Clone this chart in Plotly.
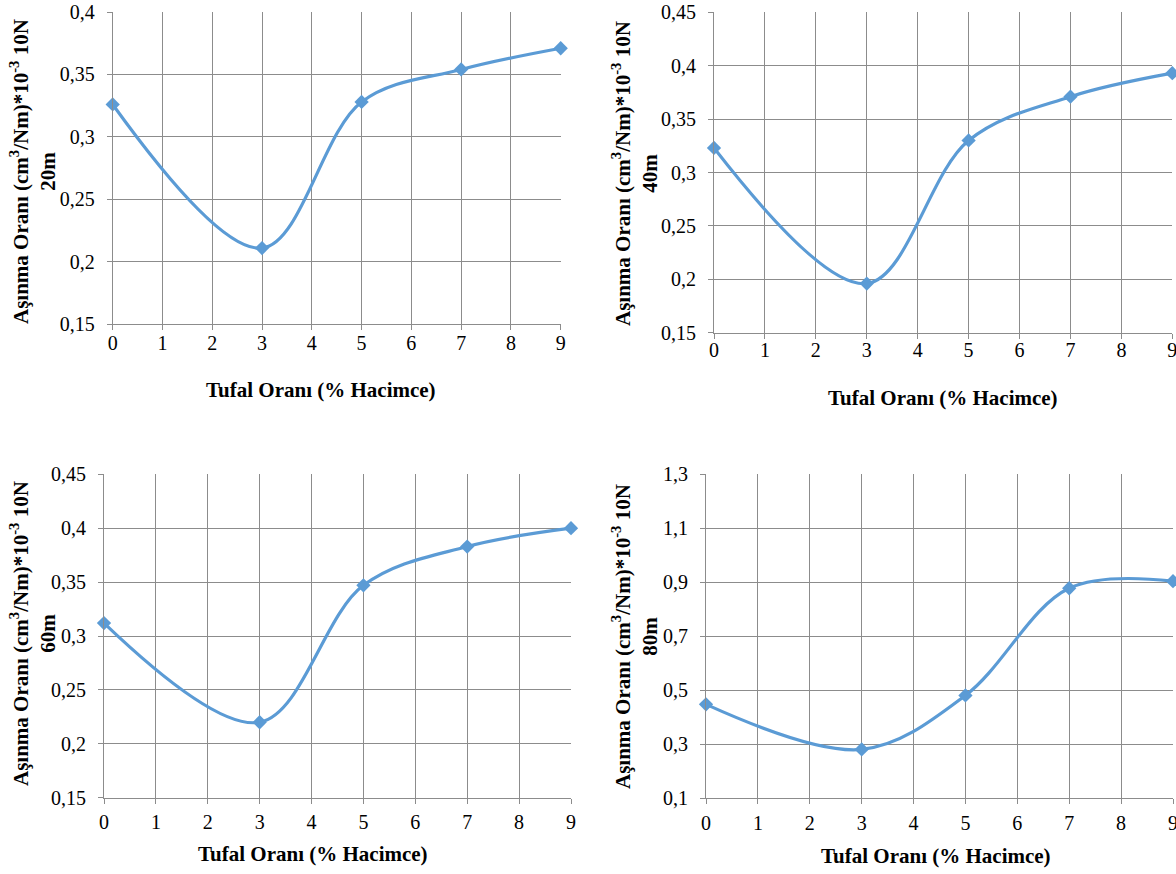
import plotly.graph_objects as go

W, H = 1176, 874

# ---- data ----
x_vals = [0, 3, 5, 7, 9]
y_20m = [0.326, 0.211, 0.328, 0.354, 0.371]
y_40m = [0.323, 0.196, 0.330, 0.371, 0.393]
y_60m = [0.312, 0.220, 0.347, 0.383, 0.400]
y_80m = [0.448, 0.281, 0.481, 0.878, 0.904]

x_ticks = [0, 1, 2, 3, 4, 5, 6, 7, 8, 9]
y_ticks_20m = [0.15, 0.2, 0.25, 0.3, 0.35, 0.4]
y_ticks_40m = [0.15, 0.2, 0.25, 0.3, 0.35, 0.4, 0.45]
y_ticks_60m = [0.15, 0.2, 0.25, 0.3, 0.35, 0.4, 0.45]
y_ticks_80m = [0.1, 0.3, 0.5, 0.7, 0.9, 1.1, 1.3]
y_ticktext_20m = ["0,15", "0,2", "0,25", "0,3", "0,35", "0,4"]
y_ticktext_40m = ["0,15", "0,2", "0,25", "0,3", "0,35", "0,4", "0,45"]
y_ticktext_60m = ["0,15", "0,2", "0,25", "0,3", "0,35", "0,4", "0,45"]
y_ticktext_80m = ["0,1", "0,3", "0,5", "0,7", "0,9", "1,1", "1,3"]
distances = ["20m", "40m", "60m", "80m"]
x_title = "Tufal Oranı (% Hacimce)"
y_title_main = "Aşınma Oranı (cm<sup>3</sup>/Nm)*10<sup>-3</sup> 10N"

# ---- layout geometry (pixels) ----
panels = [
    dict(x0=112.7, x1=560.7, yt=12.0, yb=324.3, xso=-4, ytx=33, yty=172, xtx=321, xty=390),
    dict(x0=714.0, x1=1172.3, yt=12.3, yb=332.7, xso=-6, ytx=635, yty=174, xtx=943, xty=398),
    dict(x0=104.0, x1=571.0, yt=474.3, yb=797.7, xso=1, ytx=33, yty=634, xtx=313, xty=854),
    dict(x0=706.0, x1=1173.0, yt=474.3, yb=798.3, xso=2, ytx=635, yty=637, xtx=936, xty=856),
]
series = [y_20m, y_40m, y_60m, y_80m]
yticks = [y_ticks_20m, y_ticks_40m, y_ticks_60m, y_ticks_80m]
ytexts = [y_ticktext_20m, y_ticktext_40m, y_ticktext_60m, y_ticktext_80m]

FONT = "Liberation Serif"
GRID = "#8c8c8c"
LINE_COLOR = "#5B9BD5"

fig = go.Figure()
annotations = []
for i, (p, ys, yt, ytxt, dist) in enumerate(zip(panels, series, yticks, ytexts, distances)):
    n = "" if i == 0 else str(i + 1)
    fig.add_trace(go.Scatter(
        x=x_vals, y=ys, mode="lines+markers",
        line=dict(color=LINE_COLOR, width=3.2, shape="spline", smoothing=1.0),
        marker=dict(symbol="diamond", size=11, color=LINE_COLOR),
        cliponaxis=False, showlegend=False,
        xaxis="x" + n, yaxis="y" + n,
    ))
    common = dict(showgrid=True, gridcolor=GRID, gridwidth=1,
                  showline=True, linecolor=GRID, linewidth=1,
                  ticks="outside", ticklen=5, tickcolor=GRID,
                  tickfont=dict(family=FONT, size=20, color="black"),
                  ticklabeloverflow="allow",
                  zeroline=False, fixedrange=True, automargin=False)
    fig.update_layout(**{
        "xaxis" + n: dict(domain=[p["x0"] / W, p["x1"] / W], range=[0, 9],
                          tickvals=x_ticks, anchor="y" + n,
                          ticklabelstandoff=p["xso"], **common),
        "yaxis" + n: dict(domain=[1 - p["yb"] / H, 1 - p["yt"] / H],
                          range=[yt[0], yt[-1]], tickvals=yt, ticktext=ytxt,
                          anchor="x" + n, ticklabelstandoff=8, **common),
    })
    annotations.append(dict(
        text="<b>" + y_title_main + "<br>" + dist + "</b>",
        x=p["ytx"] / W, y=1 - p["yty"] / H, xref="paper", yref="paper",
        textangle=-90, showarrow=False, xanchor="center", yanchor="middle",
        font=dict(family=FONT, size=21, color="black"),
    ))
    annotations.append(dict(
        text="<b>" + x_title + "</b>",
        x=p["xtx"] / W, y=1 - p["xty"] / H, xref="paper", yref="paper",
        showarrow=False, xanchor="center", yanchor="middle",
        font=dict(family=FONT, size=21, color="black"),
    ))

fig.update_layout(
    width=W, height=H, margin=dict(l=0, r=0, t=0, b=0, autoexpand=False),
    paper_bgcolor="white", plot_bgcolor="white",
    font=dict(family=FONT, color="black"),
    annotations=annotations, showlegend=False,
)

fig.write_html("out.html", config={"displayModeBar": False},
               post_script="document.body.style.margin='0';document.body.style.padding='0';")
